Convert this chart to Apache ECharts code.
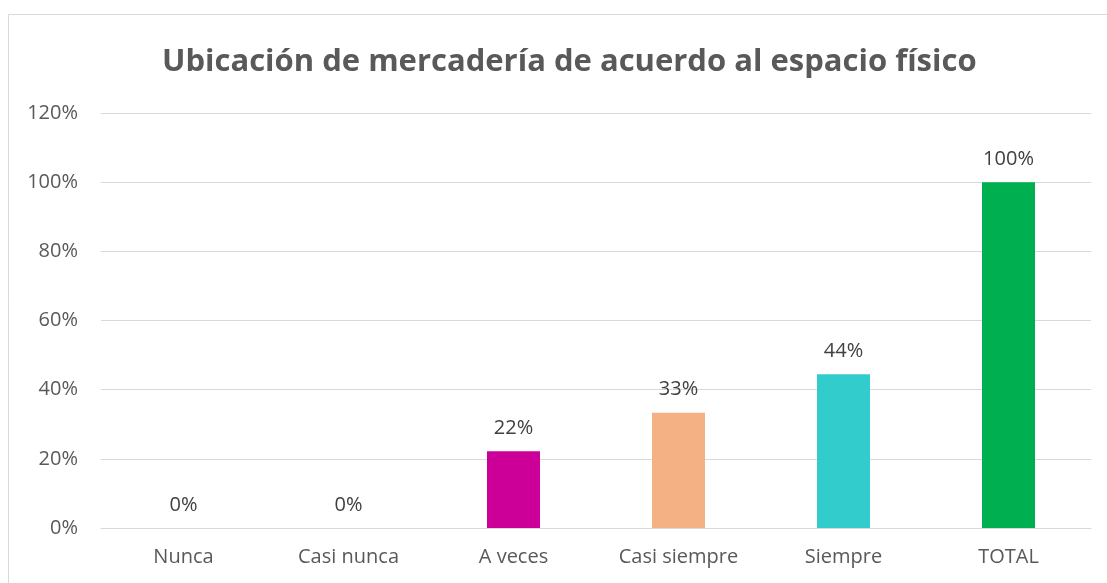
<!DOCTYPE html>
<html>
<head>
<meta charset="utf-8">
<script src="https://cdn.jsdelivr.net/npm/echarts@6/dist/echarts.min.js"></script>
<style>
  html, body { margin: 0; padding: 0; background: #fff; }
  #chart { width: 1107px; height: 583px; }
</style>
</head>
<body>
<div id="chart"></div>
<script>
var categories = ['Nunca', 'Casi nunca', 'A veces', 'Casi siempre', 'Siempre', 'TOTAL'];
var values = [0, 0, 22.22, 33.33, 44.44, 100];
var barColors = ['#CC0099', '#CC0099', '#CC0099', '#F4B183', '#33CCCC', '#00B050'];
var yTicks = [0, 20, 40, 60, 80, 100, 120];

var myChart = echarts.init(document.getElementById('chart'));

var option = {
    animation: false,
    textStyle: { fontFamily: 'Open Sans' },
    title: {
        text: 'Ubicación de mercadería de acuerdo al espacio físico',
        left: 157,
        top: 42,
        textStyle: {
            color: '#595959',
            fontSize: 31,
            fontWeight: 'bold',
            fontFamily: 'Open Sans'
        }
    },
    graphic: [{
        type: 'rect',
        shape: { x: 8.5, y: 14.5, width: 1120, height: 600 },
        style: { fill: 'none', stroke: '#d9d9d9', lineWidth: 1 },
        silent: true
    }],
    grid: { left: 101, right: 16, top: 113, bottom: 55, containLabel: false },
    xAxis: {
        type: 'category',
        data: categories,
        axisLine: { lineStyle: { color: '#d9d9d9', width: 1 } },
        axisTick: { show: false },
        axisLabel: { color: '#595959', fontSize: 20, margin: 19 }
    },
    yAxis: {
        type: 'value',
        min: 0,
        max: 120,
        interval: 20,
        axisLine: { show: false },
        axisTick: { show: false },
        splitLine: { lineStyle: { color: '#d9d9d9', width: 1 } },
        axisLabel: {
            color: '#595959',
            fontSize: 20,
            margin: 23,
            formatter: function (v) { return yTicks.indexOf(v) >= 0 ? v + '%' : ''; }
        }
    },
    series: [{
        type: 'bar',
        barWidth: 53,
        data: values.map(function (v, i) {
            return { value: v, itemStyle: { color: barColors[i] } };
        }),
        label: {
            show: true,
            position: 'top',
            distance: 13,
            color: '#404040',
            fontSize: 20,
            formatter: function (p) { return Math.round(p.value) + '%'; }
        }
    }]
};

myChart.setOption(option);
</script>
</body>
</html>
